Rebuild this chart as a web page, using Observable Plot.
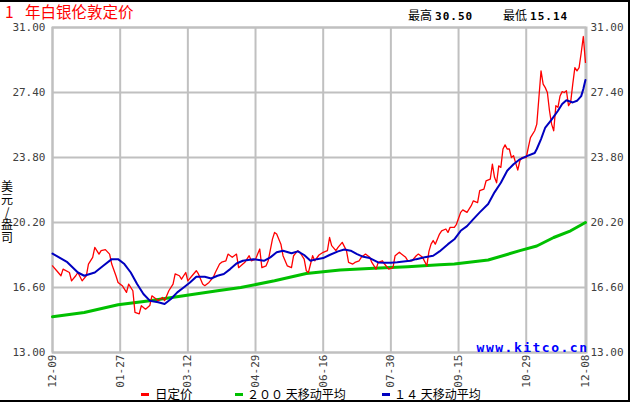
<!DOCTYPE html>
<html><head><meta charset="utf-8">
<script src="https://cdn.jsdelivr.net/npm/d3@7"></script>
<script src="https://cdn.jsdelivr.net/npm/@observablehq/plot@0.6"></script>
<style>
body{margin:0;background:#fff;}
#wrap{position:relative;width:631px;height:402px;overflow:hidden;background:#fff;font-family:"Noto Sans CJK SC",sans-serif;}
#chart{position:absolute;left:0;top:0;}
#border{position:absolute;left:0;top:0;width:630px;height:402px;box-sizing:border-box;border-top:2px solid #000;border-right:2px solid #000;border-bottom:2px solid #000;pointer-events:none;z-index:5;}
.abs{position:absolute;white-space:nowrap;}
#title{left:5px;top:3px;font-size:15.5px;line-height:16px;color:#ff0000;word-spacing:8px;}
.stat{top:7px;font-size:12px;line-height:16px;color:#000;}
.stat b{font-family:"DejaVu Sans Mono",monospace;font-size:11px;letter-spacing:1px;font-weight:bold;margin-left:3px;}
#ytitle{left:1px;top:180px;width:12px;font-size:12px;line-height:12.8px;text-align:center;color:#000;}
.sw{position:absolute;width:8px;height:3px;top:393px;}
.lg{position:absolute;top:388px;font-size:12px;line-height:12px;color:#000;}
</style></head>
<body><div id="wrap">
<div id="chart"></div>
<div id="title" class="abs">1 年白银伦敦定价</div>
<div class="abs stat" style="left:408px">最高<b>30.50</b></div>
<div class="abs stat" style="left:503px">最低<b>15.14</b></div>
<div id="ytitle" class="abs"></div>
<div id="legend"></div>
<div id="border"></div>
</div>
<script>
// x tick positions (trading-day index) and labels
const xTickDays = [0, 32, 64, 96, 128, 160, 192, 224, 252];
const xTickLabels = ["12-09","01-27","03-12","04-29","06-16","07-30","09-15","10-29","12-08"];
const yTicks = [13.00, 16.60, 20.20, 23.80, 27.40, 31.00];
const yTitle = "美元/盎司";

// daily London fix (trading-day index, USD/oz)
const redDay = [0,2,4,5,8,9,11,12,14,16,17,19,20,22,23,25,27,28,30,31,33,35,36,38,39,41,42,44,46,47,49,50,52,53,55,57,58,60,61,63,64,66,68,69,71,72,74,76,77,79,80,82,83,85,87,88,90,91,
93,94,96,98,99,101,102,104,105,106,108,109,111,113,114,116,117,119,120,121,123,124,126,128,130,131,132,134,135,137,139,140,142,143,145,146,148,150,151,153,154,156,157,159,161,162,164,165,167,168,170,172,173,175,
177,178,179,180,181,183,184,186,187,188,190,191,193,194,196,198,199,201,202,204,205,207,208,209,210,211,212,213,214,215,216,217,218,220,221,222,224,225,226,228,229,230,231,232,233,234,235,236,237,238,239,240,241,242,243,244,245,246,247,248,249,250,251,252];
const redPrice = [17.80,17.53,17.25,17.62,17.43,16.97,17.25,17.43,16.97,17.25,17.90,18.27,18.82,18.45,18.64,18.70,18.45,17.90,17.25,16.88,16.70,16.33,16.79,16.42,15.22,15.14,15.59,15.40,15.60,16.14,15.96,15.87,16.05,15.87,16.42,16.79,17.35,17.25,17.06,17.43,16.97,17.25,17.53,17.35,16.79,16.70,16.88,17.16,17.43,17.90,18.00,18.08,18.45,18.27,18.45,17.70,17.90,18.00,
18.36,18.08,18.17,18.73,17.70,17.80,18.08,19.28,19.65,19.56,19.00,18.36,17.80,17.70,18.36,18.64,18.55,18.17,17.53,17.43,18.36,18.08,18.40,18.55,18.64,19.37,18.92,18.64,18.82,19.10,18.64,17.99,17.90,17.99,18.08,18.27,18.45,18.27,17.99,17.62,17.99,18.08,17.90,17.62,17.70,18.36,18.55,18.45,18.27,18.08,18.08,18.36,18.45,18.27,
17.80,18.60,19.00,19.20,19.00,19.56,19.74,19.84,19.65,19.93,19.93,20.10,20.76,20.90,20.76,21.13,21.40,21.30,21.96,22.05,22.50,22.60,23.43,22.70,22.40,23.34,23.25,24.27,24.50,24.27,24.27,23.80,23.90,23.10,23.62,23.80,23.80,24.36,24.90,25.28,25.65,27.12,28.60,27.86,27.67,27.40,26.39,25.65,25.28,26.67,26.58,27.21,27.45,27.40,27.50,26.67,26.85,27.86,28.78,28.60,28.78,29.60,30.50,29.07];

// 14-day moving average
const blueDay = [0,7,12,15,20,24,28,31,34,37,40,43,46,50,53,56,59,62,65,68,72,75,78,81,84,87,90,95,100,103,106,109,113,116,119,122,125,128,131,135,138,141,144,147,150,154,157,160,163,166,169,172,176,180,183,187,190,193,196,199,202,206,209,212,215,218,221,224,228,229,231,233,236,239,241,243,246,248,250,251,252];
const bluePrice = [18.48,18.00,17.43,17.25,17.43,17.80,18.17,18.17,17.90,17.43,16.79,16.24,15.87,15.78,15.69,15.96,16.33,16.60,16.88,17.20,17.20,17.10,17.25,17.35,17.62,17.93,18.08,18.17,18.08,18.27,18.55,18.64,18.50,18.60,18.40,18.08,18.17,18.23,18.40,18.60,18.70,18.64,18.45,18.30,18.23,17.99,17.97,17.97,18.00,18.04,18.08,18.17,18.27,18.36,18.60,19.00,19.27,19.74,20.00,20.39,20.76,21.22,21.87,22.40,23.07,23.43,23.70,23.86,24.05,24.27,24.82,25.46,25.90,26.39,26.76,26.97,26.85,26.94,27.20,27.59,28.09];

// 200-day moving average
const greenDay = [0,15,31,46,62,78,89,105,120,136,152,168,183,190,206,221,229,237,245,252];
const greenPrice = [14.98,15.22,15.64,15.87,16.14,16.42,16.60,16.97,17.38,17.57,17.66,17.75,17.86,17.90,18.12,18.64,18.90,19.37,19.74,20.20];

const seriesNames = ["日定价", "２００ 天移动平均", "１４ 天移动平均"];
const seriesColors = ["#ff0000", "#00c000", "#0000c0"];

const toRows = (days, vals) => days.map((d, i) => ({day: d, price: vals[i]}));
const red = toRows(redDay, redPrice);
const blue = toRows(blueDay, bluePrice);
const green = toRows(greenDay, greenPrice);
const labelOf = new Map(xTickDays.map((d, i) => [d, xTickLabels[i]]));
const fmt = d => d.toFixed(2);

// vertical y-axis title, one character per line
const yt = document.getElementById("ytitle");
Array.from(yTitle).forEach((ch, i) => {
  if (i > 0) yt.appendChild(document.createElement("br"));
  yt.appendChild(document.createTextNode(ch));
});

const chart = Plot.plot({
  width: 631, height: 402,
  marginLeft: 52, marginRight: 45, marginTop: 27, marginBottom: 50,
  style: {background: "transparent", fontFamily: "DejaVu Sans Mono, monospace", fontSize: "11px", color: "#404040"},
  x: {domain: [0, 252.5], axis: null},
  y: {domain: [13, 31], axis: null},
  marks: [
    Plot.gridY(yTicks, {stroke: "#c0c0c0", strokeOpacity: 1, strokeWidth: 2}),
    Plot.gridX(xTickDays, {stroke: "#c0c0c0", strokeOpacity: 1, strokeWidth: 2}),
    Plot.frame({stroke: "#c0c0c0", strokeWidth: 2}),
    Plot.axisY(yTicks, {anchor: "left", label: null, tickSize: 0, tickPadding: 7, tickFormat: fmt, fill: "#404040"}),
    Plot.axisY(yTicks, {anchor: "right", label: null, tickSize: 0, tickPadding: 4, tickFormat: fmt, fill: "#404040"}),
    Plot.axisX(xTickDays, {anchor: "bottom", label: null, tickSize: 0, tickPadding: 2, tickRotate: -90, tickFormat: d => labelOf.get(d), fill: "#404040"}),
    Plot.line(green, {x: "day", y: "price", stroke: seriesColors[1], strokeWidth: 3}),
    Plot.line(red, {x: "day", y: "price", stroke: seriesColors[0], strokeWidth: 1.3}),
    Plot.line(blue, {x: "day", y: "price", stroke: seriesColors[2], strokeWidth: 2}),
    Plot.text(["www.kitco.cn"], {frameAnchor: "bottom-right", textAnchor: "end", dx: 2, dy: -1, fill: "#0000ff", fontWeight: "bold", fontSize: 13, fontFamily: "DejaVu Sans Mono, monospace", className: "wm"})
  ]
});
d3.select(chart).selectAll(".wm text").attr("letter-spacing", "1.5px");
document.getElementById("chart").appendChild(chart);

// legend
const legendPos = [[141, 155], [235, 247], [382, 394]];
const lg = document.getElementById("legend");
seriesNames.forEach((name, i) => {
  const sw = document.createElement("div");
  sw.className = "sw"; sw.style.left = legendPos[i][0] + "px"; sw.style.background = seriesColors[i];
  const t = document.createElement("div");
  t.className = "lg"; t.style.left = legendPos[i][1] + "px"; t.textContent = name;
  if (i === 0) t.style.fontSize = "12.5px";
  lg.appendChild(sw); lg.appendChild(t);
});
</script>
</body></html>
